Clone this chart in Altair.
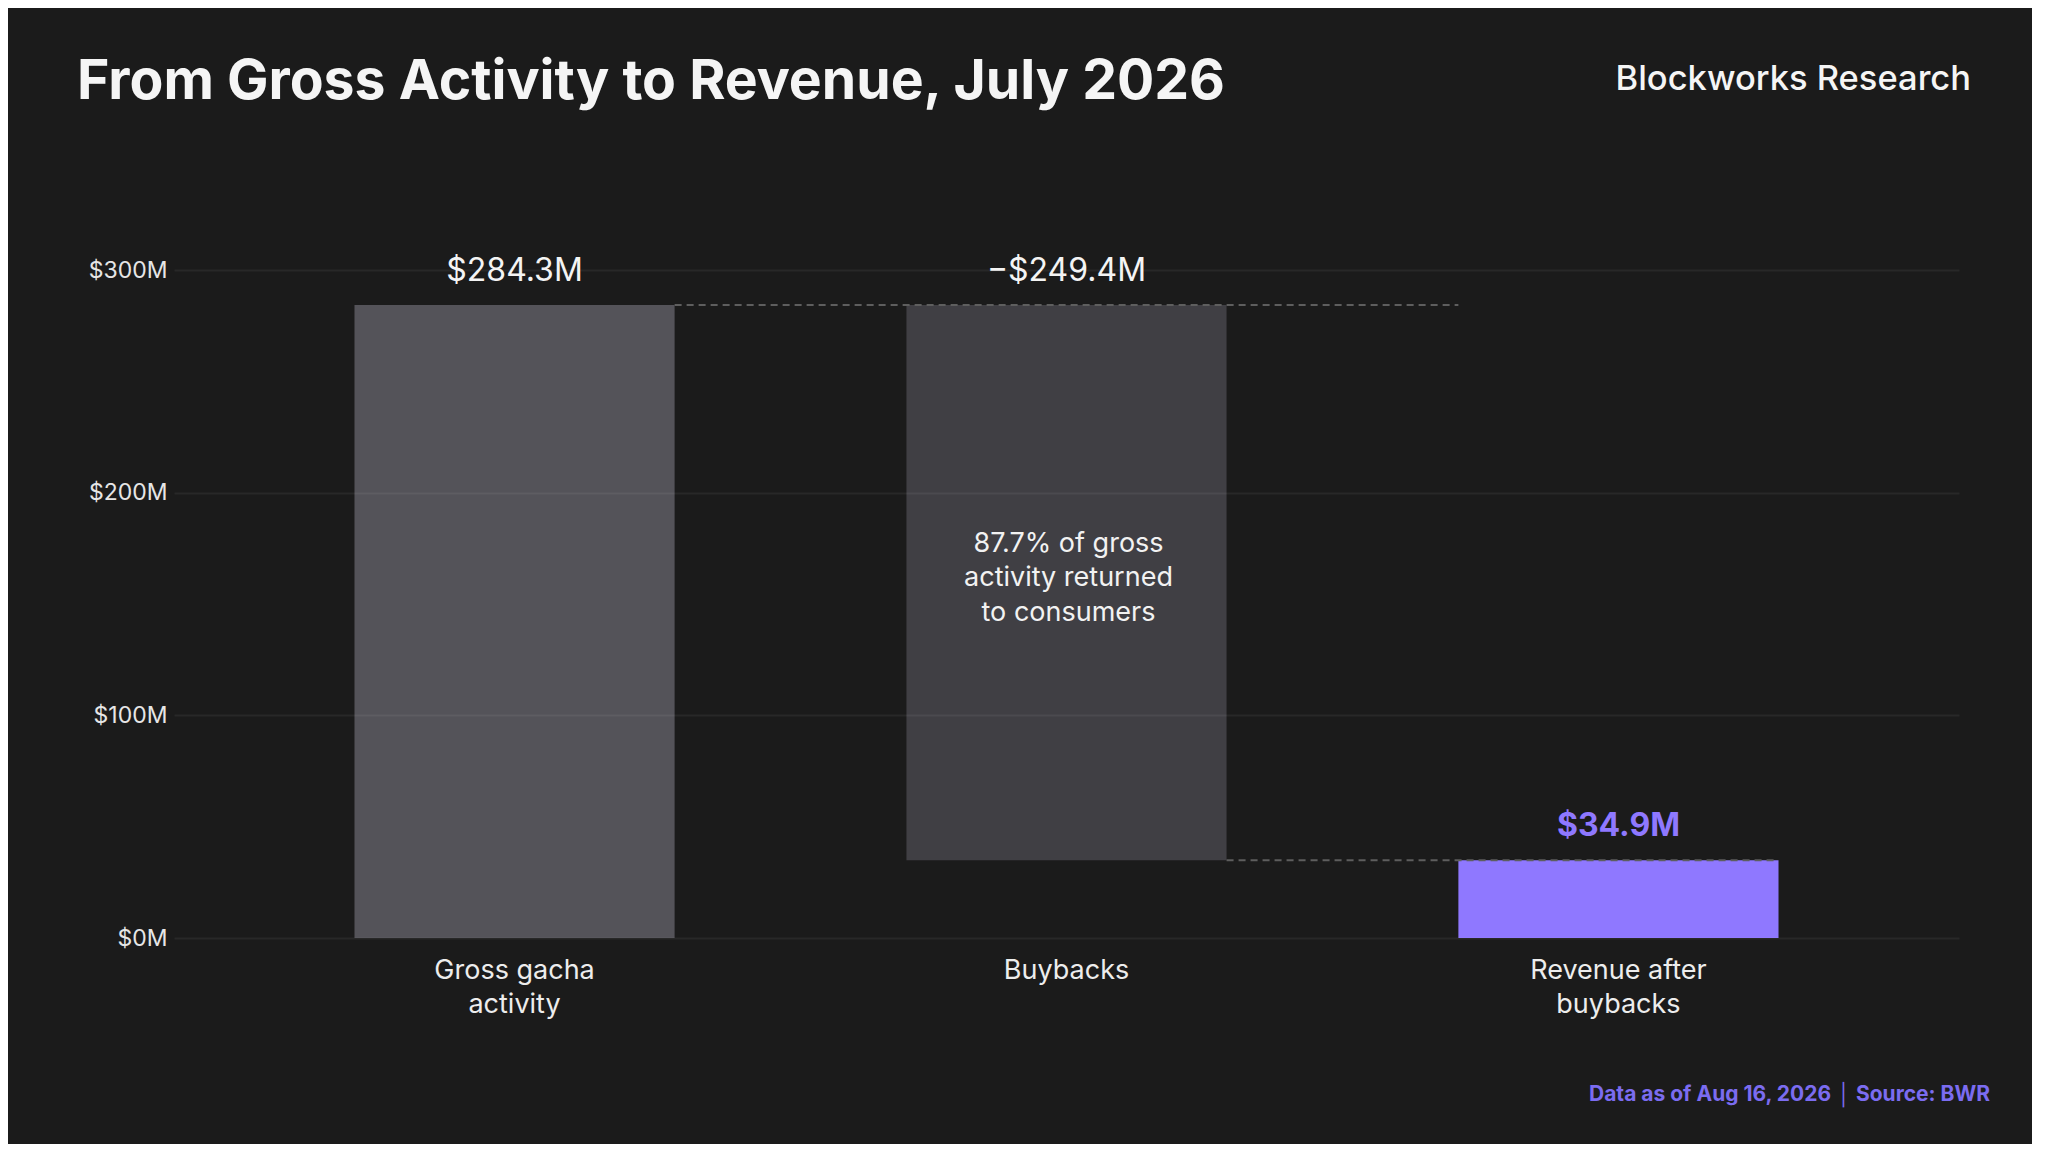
import altair as alt
import pandas as pd

# ---- data -------------------------------------------------------------
category_lines = [["Gross gacha", "activity"], ["Buybacks"], ["Revenue after", "buybacks"]]
values = [284.3, -249.4, 34.9]
kinds = ["start", "delta", "total"]
value_labels = ["$284.3M", "\u2212$249.4M", "$34.9M"]
bar_colors = ["#545359", "#403f44", "#8f78ff"]
annotation_lines = ["87.7% of gross", "activity returned", "to consumers"]
y_ticks = [0, 100, 200, 300]

title_text = "From Gross Activity to Revenue, July 2026"
brand_text = "Blockworks Research"
footer_text = "Data as of Aug 16, 2026 \u2502 Source: BWR"

categories = ["\n".join(l) for l in category_lines]

# waterfall geometry from the values
starts, ends = [], []
running = 0.0
for v, k in zip(values, kinds):
    if k in ("start", "total"):
        starts.append(0.0)
        ends.append(v)
        running = v
    else:
        starts.append(running)
        ends.append(running + v)
        running += v

bars = pd.DataFrame({
    "category": categories,
    "start": starts,
    "end": ends,
    "top": [max(s, e) for s, e in zip(starts, ends)],
    "mid": [(s + e) / 2 for s, e in zip(starts, ends)],
    "label": value_labels,
    "kind": kinds,
})

# connectors: previous level carried to the right
conn1 = pd.DataFrame({"category": [categories[0]], "to": [categories[2]], "start": [ends[0]]})
conn2 = pd.DataFrame({"category": [categories[1]], "to": [categories[2]], "start": [ends[1]]})

annot = pd.DataFrame({
    "category": [categories[1]],
    "start": [(starts[1] + ends[1]) / 2],
    "text": ["\n".join(annotation_lines)],
})

W, H = 1785, 668
FONT = "Inter"

xscale = alt.Scale(domain=categories, paddingInner=0.42, paddingOuter=0.327)
yscale = alt.Scale(domain=[0, 300], nice=False, zero=True)

x_axis = alt.Axis(labelExpr="split(datum.label, '\\n')", labelAngle=0,
                  labelFont=FONT, labelFontSize=27, labelColor="#ededed",
                  labelLineHeight=34, labelPadding=19, labelBaseline="top",
                  ticks=False, domain=False, grid=False, title=None)
y_axis = alt.Axis(values=y_ticks, labelExpr="'$' + datum.value + 'M'",
                  labelFont=FONT, labelFontSize=23, labelColor="#e6e6e6",
                  labelPadding=7, ticks=False, domain=False,
                  grid=True, gridColor="#ffffff", gridOpacity=0.06,
                  gridWidth=2, zindex=1, title=None)

def X(**kw):
    return alt.X("category:N", scale=xscale, axis=x_axis, **kw)

def Y(field):
    return alt.Y(field, scale=yscale, axis=y_axis)

base = alt.Chart(bars)

bar_layer = base.mark_bar().encode(
    x=X(),
    y=Y("start:Q"),
    y2="end:Q",
    color=alt.Color("category:N", scale=alt.Scale(domain=categories, range=bar_colors),
                    legend=None),
)

rule1 = alt.Chart(conn1).mark_rule(color="#5e5e5e", strokeWidth=2, strokeDash=[7, 5]).encode(
    x=X(bandPosition=1),
    x2=alt.X2("to:N", bandPosition=0),
    y=Y("start:Q"),
)
rule2 = alt.Chart(conn2).mark_rule(color="#5e5e5e", strokeWidth=2, strokeDash=[7, 5]).encode(
    x=X(bandPosition=1),
    x2=alt.X2("to:N", bandPosition=1),
    y=Y("start:Q"),
)

labels_plain = base.transform_filter(alt.datum.kind != "total").mark_text(
    font=FONT, fontSize=32, color="#f4f4f4", baseline="middle", dy=-34
).encode(x=X(), y=Y("top:Q"), text="label:N")

labels_total = base.transform_filter(alt.datum.kind == "total").mark_text(
    font=FONT, fontSize=32, fontWeight=700, color="#8f78ff", baseline="middle", dy=-34
).encode(x=X(), y=Y("top:Q"), text="label:N")

annot_layer = alt.Chart(annot).mark_text(
    font=FONT, fontSize=27, color="#f2f2f2", lineBreak="\n", lineHeight=34.5,
    baseline="middle", dy=-39, dx=2
).encode(x=X(), y=Y("start:Q"), text="text:N")

one = pd.DataFrame({"t": [title_text], "b": [brand_text], "f": [footer_text]})
title_layer = alt.Chart(one).mark_text(
    font=FONT, fontSize=55.3, fontWeight=700, color="#f5f5f5", align="left",
    baseline="alphabetic"
).encode(x=alt.value(-97), y=alt.value(-171), text="t:N")
brand_layer = alt.Chart(one).mark_text(
    font=FONT, fontSize=34.5, fontWeight=500, color="#f5f5f5", align="right",
    baseline="alphabetic"
).encode(x=alt.value(W + 12), y=alt.value(-180), text="b:N")
footer_layer = alt.Chart(one).mark_text(
    font=FONT, fontSize=21, fontWeight=700, color="#7b6cf0", align="right",
    baseline="alphabetic"
).encode(x=alt.value(W + 31), y=alt.value(831), text="f:N")

chart = alt.layer(
    bar_layer, rule1, rule2, labels_plain, labels_total, annot_layer,
    title_layer, brand_layer, footer_layer,
).properties(
    width=W, height=H,
    autosize=alt.AutoSizeParams(type="none"),
    padding={"left": 166, "top": 262, "right": 73, "bottom": 206},
).configure(
    background="#1b1b1b",
    font=FONT,
).configure_view(stroke=None)

chart.save("out.html", embed_options={"renderer": "svg", "actions": False})
